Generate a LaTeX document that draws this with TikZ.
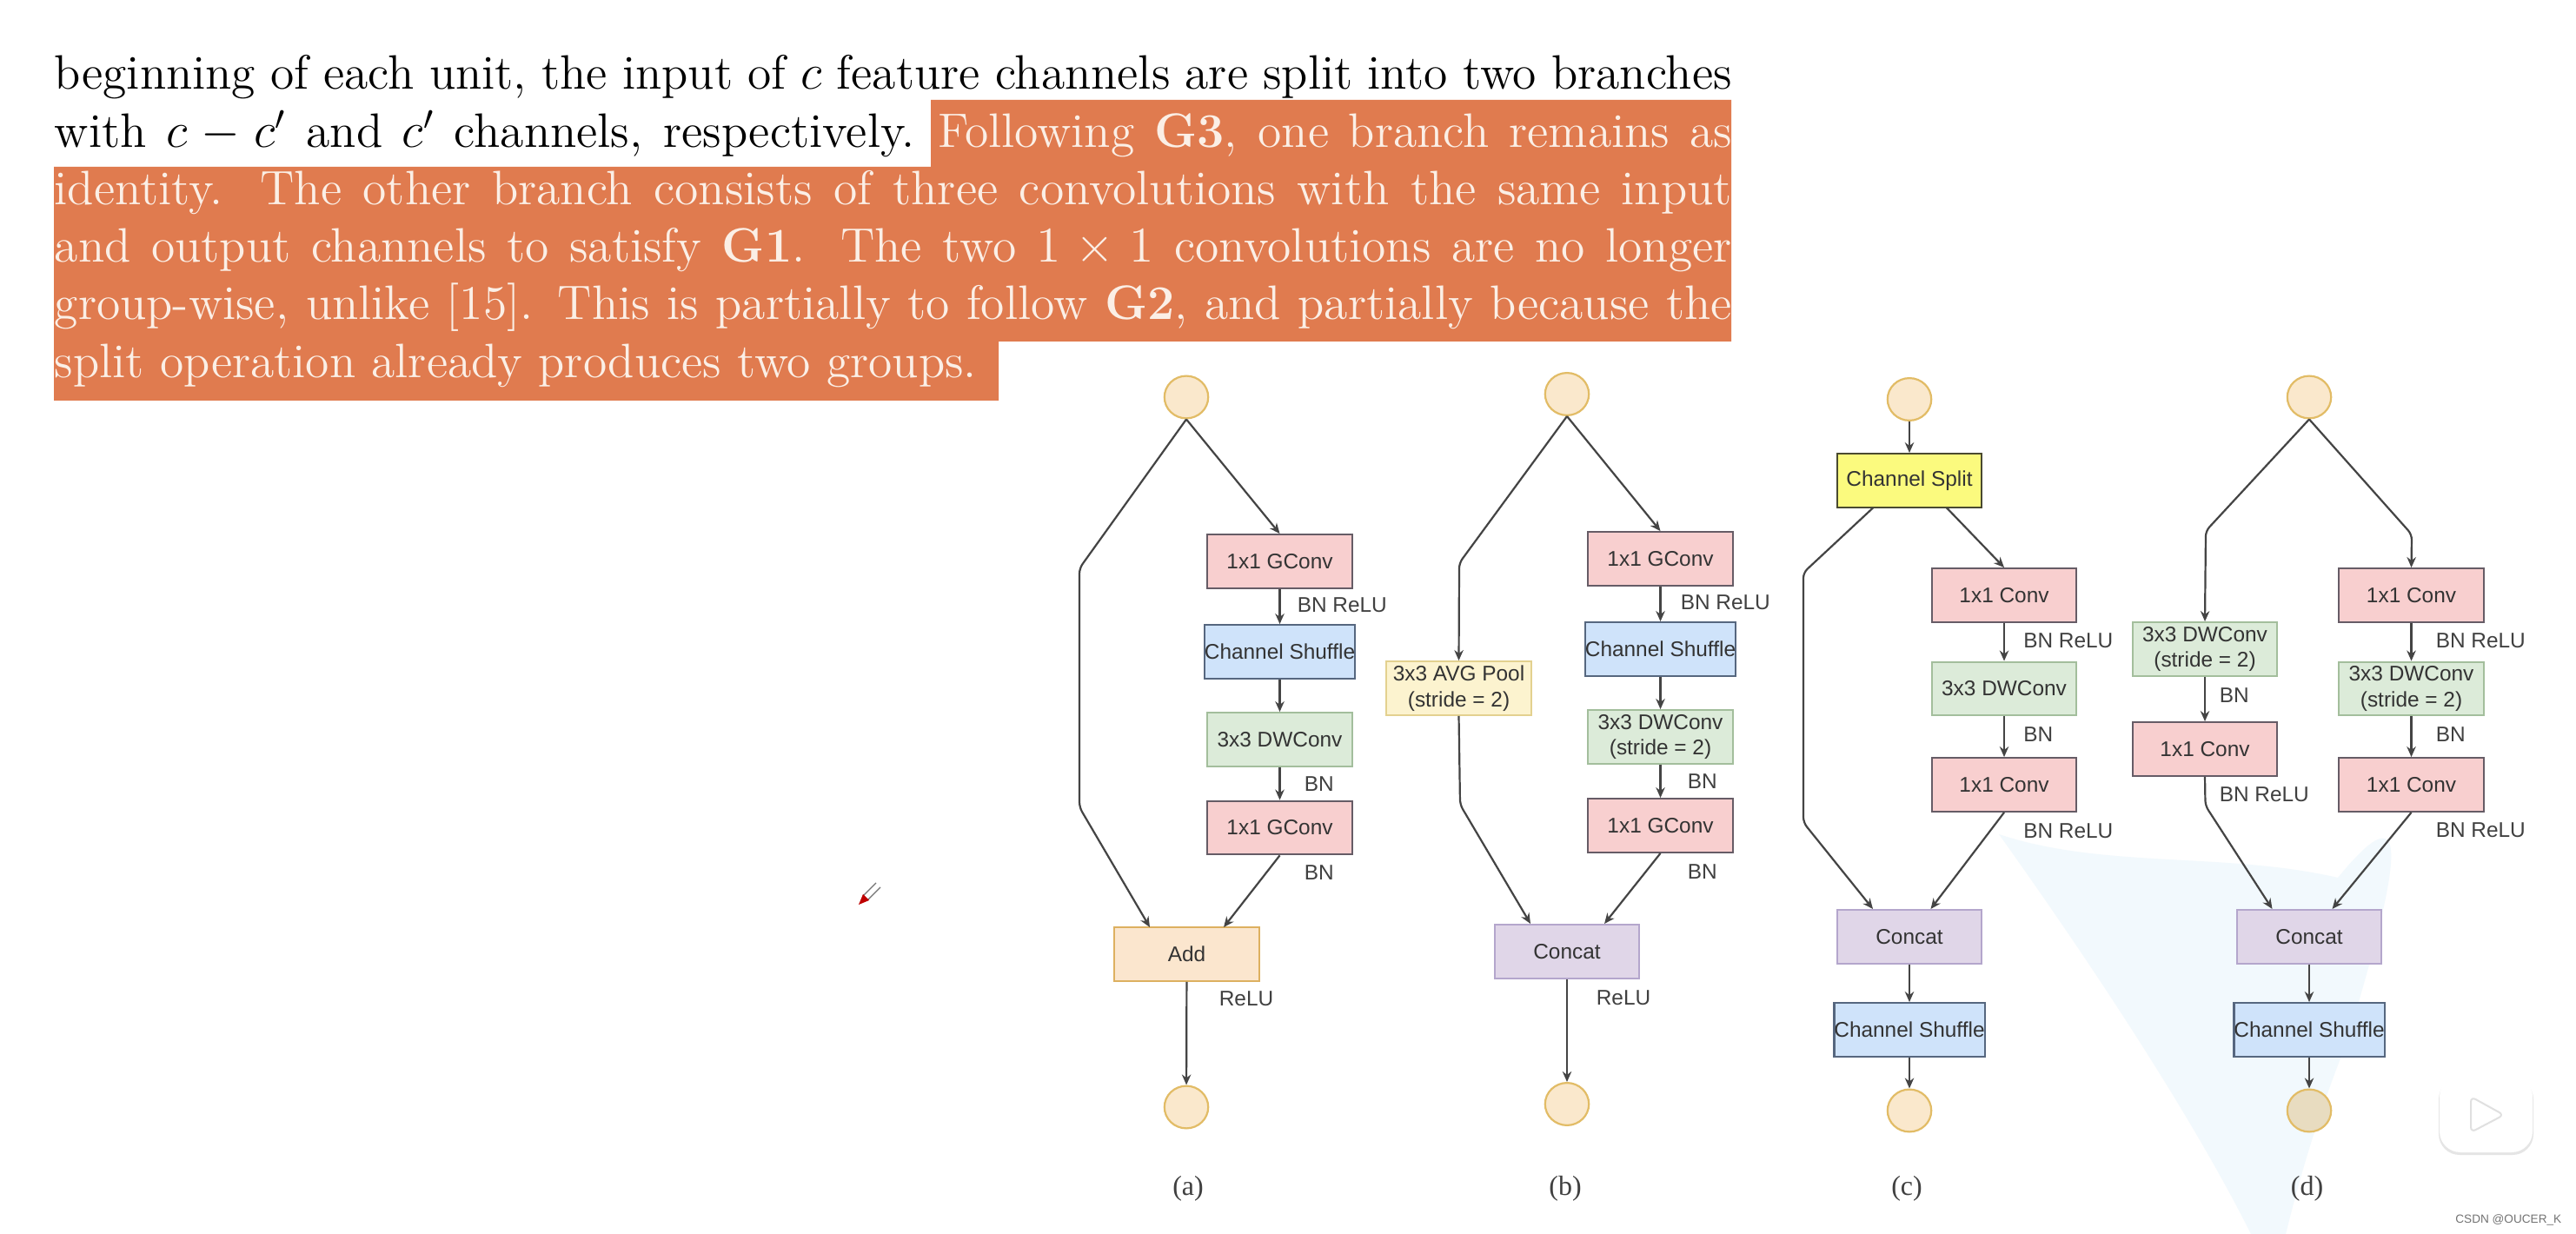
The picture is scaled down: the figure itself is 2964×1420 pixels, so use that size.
\documentclass[tikz,border=0pt]{standalone}
\usepackage{fontspec}
\usepackage{amsmath}
\setmainfont{Latin Modern Roman}
\newfontfamily\dsans{Liberation Sans}
\newfontfamily\dserif{Liberation Serif}
\usetikzlibrary{arrows.meta,shapes.geometric}
\definecolor{hlt}{HTML}{E07B4F}
\definecolor{hltx}{HTML}{FBEFE6}
\definecolor{wire}{HTML}{444444}
\definecolor{cpink}{HTML}{F8CFCF}\definecolor{lpink}{HTML}{665C66}
\definecolor{cblue}{HTML}{CFE3FA}\definecolor{lblue}{HTML}{56677F}
\definecolor{cgreen}{HTML}{DCEBD9}\definecolor{lgreen}{HTML}{A3BE9C}
\definecolor{cpool}{HTML}{FCF3CF}\definecolor{lpool}{HTML}{E3D18F}
\definecolor{cadd}{HTML}{FBE6CE}\definecolor{ladd}{HTML}{DDB060}
\definecolor{ccat}{HTML}{E0D6E8}\definecolor{lcat}{HTML}{B4A6CC}
\definecolor{cspl}{HTML}{FBFA7E}\definecolor{lspl}{HTML}{4A4A30}
\definecolor{cport}{HTML}{FAE8CC}\definecolor{lport}{HTML}{E2BC66}
\definecolor{cport2}{HTML}{E8DCC0}
\definecolor{cwash}{HTML}{F2F9FD}
\tikzset{
  blk/.style={draw,line width=.55pt,minimum width=41.6pt,minimum height=15.4pt,inner sep=0pt,align=center,font=\dsans\fontsize{6.1}{7.4}\selectfont,text=black!80},
  conv/.style={blk,fill=cpink,draw=lpink},
  shuf/.style={blk,fill=cblue,draw=lblue},
  dw/.style={blk,fill=cgreen,draw=lgreen},
  pool/.style={blk,fill=cpool,draw=lpool},
  addb/.style={blk,fill=cadd,draw=ladd},
  cat/.style={blk,fill=ccat,draw=lcat},
  spl/.style={blk,fill=cspl,draw=lspl},
  port/.style={draw=lport,fill=cport,line width=.55pt,ellipse,minimum width=12.6pt,minimum height=12.2pt,inner sep=0pt},
  lab/.style={font=\dsans\fontsize{6.1}{7.4}\selectfont,text=black!75,anchor=west,inner sep=0pt},
  capt/.style={font=\dserif\fontsize{8}{9}\selectfont,text=black!75,inner sep=0pt},
  wir/.style={draw=wire,line width=.55pt,-{Stealth[length=3pt,width=2.6pt]},rounded corners=1.5pt},
  tl/.style={anchor=base west,inner sep=0pt,font=\fontsize{13.9}{16}\selectfont},
}
\newcommand{\just}[1]{\hbox to 482.5pt{#1}}
\begin{document}
\begin{tikzpicture}[x=.25pt,y=-.25pt]
\useasboundingbox (0,0) rectangle (2964,1420);
\fill[white] (0,0) rectangle (2964,1420);
% pale watermark
\fill[cwash] (2300,960) .. controls (2420,1000) and (2560,980) .. (2690,1010)
  .. controls (2780,900) and (2760,1000) .. (2700,1200) .. controls (2660,1300) and (2640,1380) .. (2630,1420)
  -- (2590,1420) .. controls (2520,1280) and (2400,1100) .. (2300,960) -- cycle;
% highlight
\fill[hlt] (1071,115) -- (1992,115) -- (1992,393) -- (1149,393) -- (1149,461) -- (62,461) -- (62,192) -- (1071,192) -- cycle;
% text
\node[tl] (l1) at (62,103) {\just{beginning of each unit, the input of $c$ feature channels are split into two branches}};
\node[tl] (l2) at (62,170) {\just{with $c-c'$ and $c'$ channels, respectively.\hspace{5.2pt plus 3pt}\color{hltx}Following \textbf{G3}, one branch remains as}};
\node[tl,text=hltx] (l3) at (62,236) {\just{identity. The other branch consists of three convolutions with the same input}};
\node[tl,text=hltx] (l4) at (62,302) {\just{and output channels to satisfy \textbf{G1}. The two $1\times1$ convolutions are no longer}};
\node[tl,text=hltx] (l5) at (62,368) {\just{group-wise, unlike [15]. This is partially to follow \textbf{G2}, and partially because the}};
\node[tl,text=hltx] (l6) at (62,435) {split operation already produces two groups.};
% cursor
\draw[black!55,line width=.3pt] (993,1031) -- (1008,1016) (998,1036) -- (1013,1021);
\fill[red!75!black] (988,1041) -- (993,1029) -- (1000,1036) -- cycle;
% (a)
\node[port] (ai) at (1365,457) {};
\node[conv] (a1) at (1472.5,646) {1x1 GConv};
\node[shuf] (a2) at (1472.5,750) {Channel Shuffle};
\node[dw] (a3) at (1472.5,851) {3x3 DWConv};
\node[conv] (a4) at (1472.5,952.5) {1x1 GConv};
\node[addb] (a5) at (1365.5,1098) {Add};
\node[port] (ao) at (1365,1274) {};
\coordinate (ap) at (1242,654); \coordinate (aq) at (1242,929);
\coordinate (aL) at (1323,1067); \coordinate (aR) at (1408,1067);
\draw[wir] (ai.south) -- (ap) -- (aq) -- (aL);
\draw[wir] (ai.south) -- (a1.north);
\draw[wir] (a1) -- (a2);
\draw[wir] (a2) -- (a3);
\draw[wir] (a3) -- (a4);
\draw[wir] (a4.south) -- (aR);
\draw[wir] (a5) -- (ao);
\node[lab] (al1) at (1492,696) {BN ReLU};
\node[lab] (al2) at (1500,902) {BN};
\node[lab] (al3) at (1500,1004) {BN};
\node[lab] (al4) at (1402,1149) {ReLU};
\node[capt] (ac) at (1367,1368) {(a)};
% (b)
\node[port] (bi) at (1803,453.5) {};
\node[conv] (b1) at (1910.5,643) {1x1 GConv};
\node[shuf] (b2) at (1910.5,747) {Channel Shuffle};
\node[dw] (b3) at (1910.5,848) {3x3 DWConv\\(stride = 2)};
\node[conv] (b4) at (1910.5,950) {1x1 GConv};
\node[pool] (b5) at (1678.5,792) {3x3 AVG Pool\\(stride = 2)};
\node[cat] (b6) at (1803,1095) {Concat};
\node[port] (bo) at (1803,1270.5) {};
\coordinate (bp) at (1679,648); \coordinate (bq) at (1680,926);
\coordinate (bL) at (1761,1063); \coordinate (bR) at (1846,1063);
\draw[wir] (bi.south) -- (bp) -- (b5.north);
\draw[wir] (bi.south) -- (b1.north);
\draw[wir] (b1) -- (b2);
\draw[wir] (b2) -- (b3);
\draw[wir] (b3) -- (b4);
\draw[wir] (b5.south) -- (bq) -- (bL);
\draw[wir] (b4.south) -- (bR);
\draw[wir] (b6) -- (bo);
\node[lab] (bl1) at (1933,693) {BN ReLU};
\node[lab] (bl2) at (1941,899) {BN};
\node[lab] (bl3) at (1941,1003) {BN};
\node[lab] (bl4) at (1836,1148) {ReLU};
\node[capt] (bc) at (1801,1368) {(b)};
% (c)
\node[port] (ci) at (2197,459.5) {};
\node[spl] (c0) at (2197,553) {Channel Split};
\node[conv] (c1) at (2306,685) {1x1 Conv};
\node[dw] (c2) at (2306,792.5) {3x3 DWConv};
\node[conv] (c3) at (2306,903) {1x1 Conv};
\node[cat] (c4) at (2197,1078) {Concat};
\node[shuf] (c5) at (2197,1185) {Channel Shuffle};
\node[port] (co) at (2197,1278) {};
\coordinate (csl) at (2155,584.5); \coordinate (csr) at (2240,584.5);
\coordinate (cp) at (2075,659); \coordinate (cq) at (2075,946.5);
\coordinate (cL) at (2155,1046); \coordinate (cR) at (2221.5,1046);
\draw[wir] (ci) -- (c0);
\draw[wir] (csl) -- (cp) -- (cq) -- (cL);
\draw[wir] (csr) -- (c1.north);
\draw[wir] (c1) -- (c2);
\draw[wir] (c2) -- (c3);
\draw[wir] (c3.south) -- (cR);
\draw[wir] (c4) -- (c5);
\draw[wir] (c5) -- (co);
\node[lab] (cl1) at (2327.5,737) {BN ReLU};
\node[lab] (cl2) at (2327.5,845) {BN};
\node[lab] (cl3) at (2327.5,956) {BN ReLU};
\node[capt] (cc) at (2194,1368) {(c)};
% (d)
\node[port] (di) at (2657,457) {};
\node[dw] (d1) at (2537,747) {3x3 DWConv\\(stride = 2)};
\node[conv] (d2) at (2537,862) {1x1 Conv};
\node[conv] (d3) at (2774.5,685) {1x1 Conv};
\node[dw] (d4) at (2774.5,792.5) {3x3 DWConv\\(stride = 2)};
\node[conv] (d5) at (2774.5,903) {1x1 Conv};
\node[cat] (d6) at (2657,1078) {Concat};
\node[shuf] (d7) at (2657,1185) {Channel Shuffle};
\node[port,fill=cport2] (do) at (2657,1278) {};
\coordinate (dp) at (2538,611); \coordinate (dq) at (2775,615);
\coordinate (dr) at (2537.5,927);
\coordinate (dL) at (2614.5,1046); \coordinate (dR) at (2683.5,1046);
\draw[wir] (di.south) -- (dp) -- (d1.north);
\draw[wir] (di.south) -- (dq) -- (d3.north);
\draw[wir] (d1) -- (d2);
\draw[wir] (d3) -- (d4);
\draw[wir] (d4) -- (d5);
\draw[wir] (d2.south) -- (dr) -- (dL);
\draw[wir] (d5.south) -- (dR);
\draw[wir] (d6) -- (d7);
\draw[wir] (d7) -- (do);
\node[lab] (dl1) at (2553,800) {BN};
\node[lab] (dl2) at (2553,914.5) {BN ReLU};
\node[lab] (dl3) at (2802,737) {BN ReLU};
\node[lab] (dl4) at (2802,845) {BN};
\node[lab] (dl5) at (2802,955) {BN ReLU};
\node[capt] (dc) at (2654.5,1368) {(d)};
% logo
\fill[black!10,rounded corners=6pt] (2806,1241) rectangle (2915,1329);
\draw[white,line width=2.2pt,line cap=round] (2838,1240) -- (2829,1226) (2882,1240) -- (2891,1226);
\fill[white,rounded corners=6pt] (2807,1238) rectangle (2914,1326);
\draw[black!12,fill=white,line width=.5pt,line join=round,rounded corners=1.5pt] (2843,1262) -- (2881,1283) -- (2843,1303) -- cycle;
\node[anchor=east,inner sep=0pt,font=\dsans\fontsize{3.4}{4}\selectfont,text=black!55] (wm) at (2948,1404) {CSDN @OUCER\_K};
\end{tikzpicture}
\end{document}
